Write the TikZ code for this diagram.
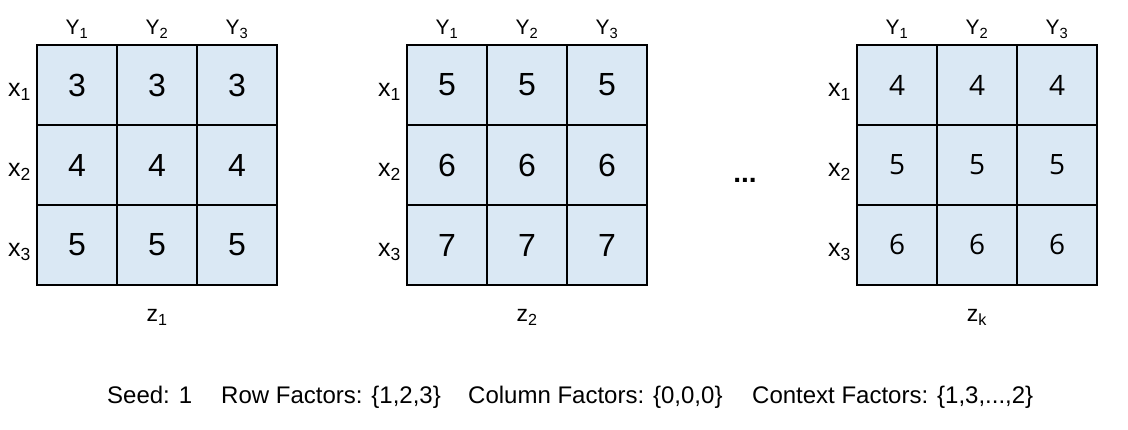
\documentclass[tikz,border=0pt]{standalone}
\usepackage{fontspec}
\usepackage{xcolor}
\setmainfont{Liberation Sans}
\newfontfamily\opensans{Open Sans}
\usepackage{tikz}

\definecolor{cellblue}{HTML}{DAE8F4}

\begin{document}
\begin{tikzpicture}[
        x=1pt, y=-1pt,
        every node/.style={inner sep=0pt},
        cell/.style={rectangle, draw, line width=2pt, fill=cellblue, minimum size=80pt},
        num/.style={font=\fontsize{32}{38}\selectfont},
        numalt/.style={font=\opensans\fontsize{28}{34}\selectfont},
        collab/.style={anchor=base, font=\fontsize{21}{25}\selectfont},
        rowlab/.style={anchor=base east, font=\fontsize{25}{30}\selectfont},
        zlab/.style={anchor=base, font=\fontsize{23}{28}\selectfont},
        info/.style={anchor=base west, font=\fontsize{24}{29}\selectfont}
    ]
    \useasboundingbox (0,0) rectangle (1128,430);

    % First grid
    \begin{scope}
        % Cells of the grid
        \node[cell, num] (a11) at (77,85) {3};  \node[cell, num] (a12) at (157,85) {3};  \node[cell, num] (a13) at (237,85) {3};
        \node[cell, num] (a21) at (77,165) {4}; \node[cell, num] (a22) at (157,165) {4}; \node[cell, num] (a23) at (237,165) {4};
        \node[cell, num] (a31) at (77,245) {5}; \node[cell, num] (a32) at (157,245) {5}; \node[cell, num] (a33) at (237,245) {5};

        % Column and row labels
        \node[collab] (ay1) at (77,35) {Y\textsubscript{1}};
        \node[collab] (ay2) at (157,35) {Y\textsubscript{2}};
        \node[collab] (ay3) at (237,35) {Y\textsubscript{3}};
        \node[rowlab] (ax1) at (31,97) {x\textsubscript{1}};
        \node[rowlab] (ax2) at (31,177) {x\textsubscript{2}};
        \node[rowlab] (ax3) at (31,257) {x\textsubscript{3}};
        \node[zlab] (az) at (157,322) {z\textsubscript{1}};
    \end{scope}

    % Second grid (shifted to the right)
    \begin{scope}[xshift=370pt]
        % Cells of the grid
        \node[cell, num] (b11) at (77,85) {5};  \node[cell, num] (b12) at (157,85) {5};  \node[cell, num] (b13) at (237,85) {5};
        \node[cell, num] (b21) at (77,165) {6}; \node[cell, num] (b22) at (157,165) {6}; \node[cell, num] (b23) at (237,165) {6};
        \node[cell, num] (b31) at (77,245) {7}; \node[cell, num] (b32) at (157,245) {7}; \node[cell, num] (b33) at (237,245) {7};

        % Column and row labels
        \node[collab] (by1) at (77,35) {Y\textsubscript{1}};
        \node[collab] (by2) at (157,35) {Y\textsubscript{2}};
        \node[collab] (by3) at (237,35) {Y\textsubscript{3}};
        \node[rowlab] (bx1) at (31,97) {x\textsubscript{1}};
        \node[rowlab] (bx2) at (31,177) {x\textsubscript{2}};
        \node[rowlab] (bx3) at (31,257) {x\textsubscript{3}};
        \node[zlab] (bz) at (157,322) {z\textsubscript{2}};
    \end{scope}

    % Dots between the second and the last grid
    \node[anchor=base, font=\bfseries\fontsize{28}{33}\selectfont] (dots) at (745,183) {...};

    % Last grid
    \begin{scope}[xshift=820pt]
        % Cells of the grid
        \node[cell, numalt] (c11) at (77,85) {4};  \node[cell, numalt] (c12) at (157,85) {4};  \node[cell, numalt] (c13) at (237,85) {4};
        \node[cell, numalt] (c21) at (77,165) {5}; \node[cell, numalt] (c22) at (157,165) {5}; \node[cell, numalt] (c23) at (237,165) {5};
        \node[cell, numalt] (c31) at (77,245) {6}; \node[cell, numalt] (c32) at (157,245) {6}; \node[cell, numalt] (c33) at (237,245) {6};

        % Column and row labels
        \node[collab] (cy1) at (77,35) {Y\textsubscript{1}};
        \node[collab] (cy2) at (157,35) {Y\textsubscript{2}};
        \node[collab] (cy3) at (237,35) {Y\textsubscript{3}};
        \node[rowlab] (cx1) at (31,97) {x\textsubscript{1}};
        \node[rowlab] (cx2) at (31,177) {x\textsubscript{2}};
        \node[rowlab] (cx3) at (31,257) {x\textsubscript{3}};
        \node[zlab] (cz) at (157,322) {z\textsubscript{k}};
    \end{scope}

    % Settings line at the bottom
    \node[info] (seed) at (107,404) {Seed: 1};
    \node[info] (rowf) at (221,404) {Row Factors: \{1,2,3\}};
    \node[info] (colf) at (468,404) {Column Factors: \{0,0,0\}};
    \node[info] (ctxf) at (752,404) {Context Factors: \{1,3,...,2\}};

\end{tikzpicture}
\end{document}
